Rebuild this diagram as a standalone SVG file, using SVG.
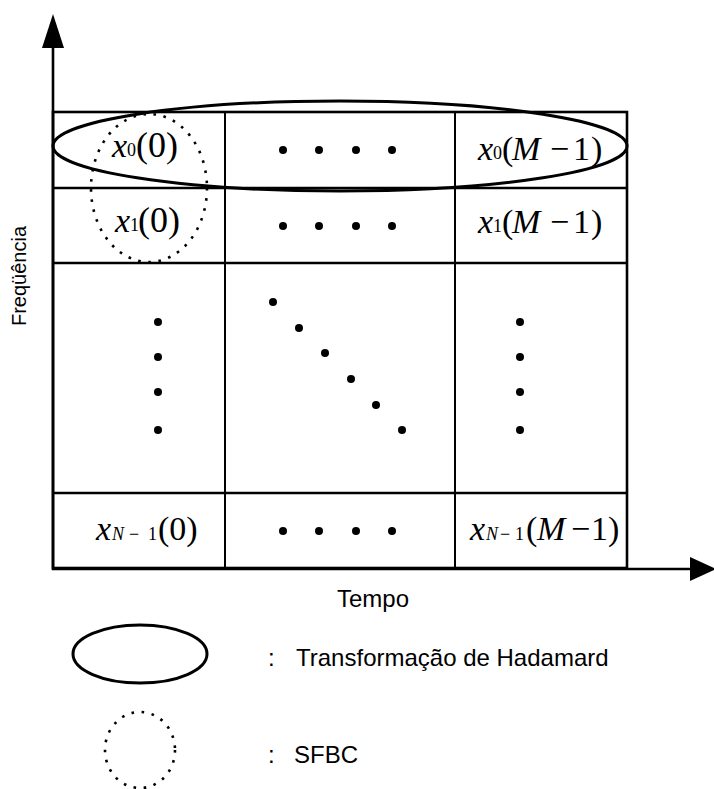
<svg xmlns="http://www.w3.org/2000/svg" width="714" height="789" viewBox="0 0 714 789">
<style>
.ln{stroke:#000;stroke-width:2.6;fill:none}
.ln2{stroke:#000;stroke-width:2;fill:none}
.m{font-family:"Liberation Serif","Times New Roman",serif;font-size:34px;fill:#000}
.i{font-style:italic}
.s{font-size:18px}
.b{font-size:36px}
.l{font-family:"Liberation Sans",Arial,sans-serif;font-size:24px;fill:#000}
.dot{fill:#000}
.had{fill:none;stroke:#000;stroke-width:3}
.sfbc{fill:none;stroke:#000;stroke-width:2.6;stroke-dasharray:2.6 7.6}
</style>
<rect width="714" height="789" fill="#fff"/>
<g id="axes">
<line class="ln" x1="53" y1="570" x2="53" y2="44"/>
<polygon points="53,14 64,48 42,48" fill="#000"/>
<line class="ln" x1="52" y1="569" x2="692" y2="569"/>
<polygon points="690,557 716,569 690,581" fill="#000"/>
<text class="l" x="337" y="607">Tempo</text>
<text class="l" style="font-size:20px" x="26" y="276" text-anchor="middle" transform="rotate(-90 26 276)">Freqüência</text>
</g>
<g id="grid">
<rect class="ln" x="53" y="112" width="574" height="456"/>
<line class="ln" x1="53" y1="188" x2="627" y2="188"/>
<line class="ln" x1="53" y1="263" x2="627" y2="263"/>
<line class="ln" x1="53" y1="493" x2="627" y2="493"/>
<line class="ln2" x1="225" y1="112" x2="225" y2="568"/>
<line class="ln2" x1="455" y1="112" x2="455" y2="568"/>
</g>
<g id="cell-x0-0">
<text class="m"><tspan class="i" x="112" y="157">x</tspan><tspan class="s" x="127" y="156">0</tspan><tspan class="b" x="136" y="157">(0)</tspan></text>
</g>
<g id="cell-x1-0">
<text class="m"><tspan class="i" x="115" y="232">x</tspan><tspan class="s" x="130" y="231">1</tspan><tspan class="b" x="138" y="232">(0)</tspan></text>
</g>
<g id="cell-xN-0">
<text class="m"><tspan class="i" x="96" y="540">x</tspan><tspan class="s i" x="112" y="540">N</tspan><tspan class="s" x="129" y="540">−</tspan><tspan class="s" x="148" y="540">1</tspan><tspan x="158" y="540">(0)</tspan></text>
</g>
<g id="cell-x0-M">
<text class="m"><tspan class="i" x="478" y="160">x</tspan><tspan class="s" x="493" y="159">0</tspan><tspan x="502" y="160">(</tspan><tspan class="i" x="512" y="160">M</tspan><tspan x="550" y="160">−</tspan><tspan x="573" y="160">1</tspan><tspan x="591" y="160">)</tspan></text>
</g>
<g id="cell-x1-M">
<text class="m"><tspan class="i" x="478" y="233">x</tspan><tspan class="s" x="493" y="232">1</tspan><tspan x="502" y="233">(</tspan><tspan class="i" x="512" y="233">M</tspan><tspan x="550" y="233">−</tspan><tspan x="573" y="233">1</tspan><tspan x="591" y="233">)</tspan></text>
</g>
<g id="cell-xN-M">
<text class="m"><tspan class="i" x="470" y="540">x</tspan><tspan class="s i" x="486" y="540">N</tspan><tspan class="s" x="500" y="540">−</tspan><tspan class="s" x="515" y="540">1</tspan><tspan x="526" y="540">(</tspan><tspan class="i" x="537" y="540">M</tspan><tspan x="571" y="540">−</tspan><tspan x="591" y="540">1</tspan><tspan x="608" y="540">)</tspan></text>
</g>
<g id="dots">
<circle class="dot" cx="283" cy="150" r="4"/><circle class="dot" cx="319" cy="150" r="4"/><circle class="dot" cx="356" cy="150" r="4"/><circle class="dot" cx="392" cy="150" r="4"/>
<circle class="dot" cx="283" cy="226" r="4"/><circle class="dot" cx="319" cy="226" r="4"/><circle class="dot" cx="356" cy="226" r="4"/><circle class="dot" cx="392" cy="226" r="4"/>
<circle class="dot" cx="283" cy="531" r="4"/><circle class="dot" cx="319" cy="531" r="4"/><circle class="dot" cx="356" cy="531" r="4"/><circle class="dot" cx="392" cy="531" r="4"/>
<circle class="dot" cx="158" cy="322" r="4"/><circle class="dot" cx="158" cy="357" r="4"/><circle class="dot" cx="158" cy="392" r="4"/><circle class="dot" cx="158" cy="430" r="4"/>
<circle class="dot" cx="520" cy="322" r="4"/><circle class="dot" cx="520" cy="357" r="4"/><circle class="dot" cx="520" cy="392" r="4"/><circle class="dot" cx="520" cy="430" r="4"/>
<circle class="dot" cx="273" cy="302" r="4"/><circle class="dot" cx="299" cy="328" r="4"/><circle class="dot" cx="325" cy="353" r="4"/><circle class="dot" cx="351" cy="379" r="4"/><circle class="dot" cx="376" cy="405" r="4"/><circle class="dot" cx="402" cy="430" r="4"/>
</g>
<g id="hadamard-ellipse">
<ellipse class="had" cx="340" cy="146" rx="287" ry="45"/>
</g>
<g id="sfbc-circle">
<ellipse class="sfbc" cx="149" cy="188" rx="58" ry="74"/>
</g>
<g id="legend-hadamard">
<ellipse class="had" cx="140" cy="654" rx="67" ry="29"/>
<text class="l"><tspan x="268" y="666">:</tspan><tspan x="296" y="666">Transformação de Hadamard</tspan></text>
</g>
<g id="legend-sfbc">
<ellipse class="sfbc" cx="140" cy="750" rx="35" ry="38"/>
<text class="l"><tspan x="268" y="763">:</tspan><tspan x="294" y="763">SFBC</tspan></text>
</g>
</svg>
